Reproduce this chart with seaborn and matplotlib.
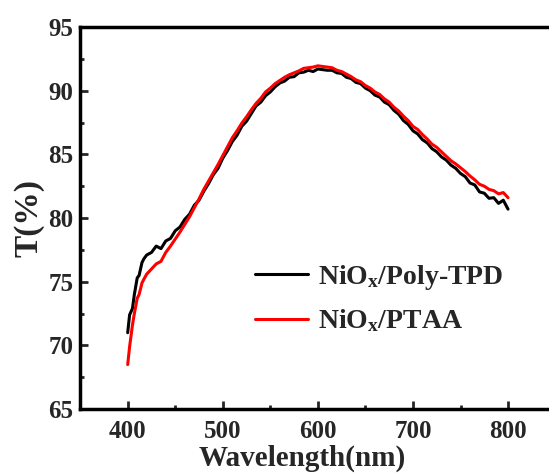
import numpy as np
import pandas as pd
import matplotlib
matplotlib.use("Agg")
import matplotlib.pyplot as plt
import seaborn as sns
from matplotlib.ticker import MultipleLocator

wavelength = [400, 402, 405, 407, 410, 412, 415, 417, 420, 425, 430, 435, 440, 445, 450,
              455, 460, 465, 470, 475, 480, 485, 490, 495, 500, 505, 510, 515, 520, 525,
              530, 535, 540, 545, 550, 555, 560, 565, 570, 575, 580, 585, 590, 595, 600,
              605, 610, 615, 620, 625, 630, 635, 640, 645, 650, 655, 660, 665, 670, 675,
              680, 685, 690, 695, 700, 705, 710, 715, 720, 725, 730, 735, 740, 745, 750,
              755, 760, 765, 770, 775, 780, 785, 790, 795, 800]

poly_tpd = [71.0, 72.4, 72.9, 74.0, 75.3, 75.5, 76.5, 76.8, 77.1, 77.3, 77.8, 77.6, 78.2, 78.4, 79.0,
            79.3, 79.9, 80.3, 81.0, 81.4, 82.1, 82.7, 83.4, 83.9, 84.7, 85.3, 86.0, 86.5, 87.2, 87.6,
            88.2, 88.8, 89.1, 89.6, 89.9, 90.3, 90.6, 90.75, 91.05, 91.1, 91.4, 91.45, 91.6, 91.5, 91.7,
            91.65, 91.6, 91.6, 91.4, 91.35, 91.05, 90.95, 90.65, 90.55, 90.2, 90.0, 89.65, 89.5, 89.1, 88.9,
            88.45, 88.15, 87.65, 87.35, 86.85, 86.6, 86.15, 85.9, 85.45, 85.2, 84.8, 84.55, 84.15, 83.9, 83.5,
            83.25, 82.75, 82.6, 82.05, 81.95, 81.55, 81.6, 81.15, 81.4, 80.7]

ptaa = [68.5, 69.9, 71.6, 72.5, 73.7, 74.0, 74.9, 75.2, 75.6, 76.0, 76.4, 76.6, 77.3, 77.8, 78.35,
        78.9, 79.5, 80.1, 80.8, 81.5, 82.25, 82.9, 83.55, 84.2, 84.9, 85.6, 86.3, 86.85, 87.45, 87.95,
        88.5, 89.0, 89.4, 89.9, 90.2, 90.55, 90.8, 91.05, 91.25, 91.4, 91.55, 91.75, 91.8, 91.85, 91.95,
        91.9, 91.85, 91.8, 91.6, 91.5, 91.3, 91.1, 90.85, 90.7, 90.4, 90.2, 89.9, 89.7, 89.35, 89.1,
        88.7, 88.4, 88.0, 87.65, 87.2, 86.95, 86.55, 86.2, 85.8, 85.55, 85.2, 84.85, 84.5, 84.25, 83.95,
        83.65, 83.3, 83.0, 82.65, 82.5, 82.25, 82.15, 81.9, 82.0, 81.6]

labels = [r"NiO$_\mathbf{x}$/Poly-TPD", r"NiO$_\mathbf{x}$/PTAA"]
colors = ["#000000", "#ff0000"]

df = pd.DataFrame({
    "Wavelength": wavelength * 2,
    "T": poly_tpd + ptaa,
    "Sample": [labels[0]] * len(wavelength) + [labels[1]] * len(wavelength),
})

sns.set_style("ticks")
plt.rcParams["font.family"] = ["Liberation Serif", "DejaVu Serif"]
plt.rcParams["font.weight"] = "bold"
plt.rcParams["mathtext.fontset"] = "custom"
plt.rcParams["mathtext.rm"] = "Liberation Serif:bold"
plt.rcParams["mathtext.bf"] = "Liberation Serif:bold"
plt.rcParams["mathtext.it"] = "Liberation Serif:bold"

fig = plt.figure(figsize=(5.49, 4.73), dpi=100)
ax = fig.add_axes([0.146, 0.135, 0.866, 0.808])

sns.lineplot(data=df, x="Wavelength", y="T", hue="Sample", palette=colors,
             hue_order=labels, ax=ax, linewidth=2.2, legend=True)

ax.set_xlim(350, 850)
ax.set_ylim(65, 95)
ax.xaxis.set_major_locator(MultipleLocator(100))
ax.xaxis.set_minor_locator(MultipleLocator(50))
ax.yaxis.set_major_locator(MultipleLocator(5))
ax.yaxis.set_minor_locator(MultipleLocator(2.5))
ax.tick_params(which="both", direction="in", width=2, labelsize=18, pad=5)
ax.tick_params(which="major", length=6)
ax.tick_params(which="minor", length=3)
ax.tick_params(axis="x", pad=8)
for lab in ax.get_xticklabels() + ax.get_yticklabels():
    lab.set_fontweight("bold")
for sp in ax.spines.values():
    sp.set_linewidth(2.5)
    sp.set_color("black")

ax.set_xlabel("Wavelength(nm)", fontsize=21, fontweight="bold")
ax.xaxis.set_label_coords(0.468, -0.094)
ax.set_ylabel("T(%)", fontsize=24, fontweight="bold")
ax.yaxis.set_label_coords(-0.076, 0.5)

leg = ax.legend(loc="upper left", bbox_to_anchor=(0.368, 0.382), frameon=False,
                prop={"size": 20, "weight": "bold"}, handlelength=1.9,
                handletextpad=0.35, labelspacing=0.55, borderpad=0, borderaxespad=0)
for line in leg.get_lines():
    line.set_linewidth(2.2)

fig.savefig("out.png", dpi=100)
